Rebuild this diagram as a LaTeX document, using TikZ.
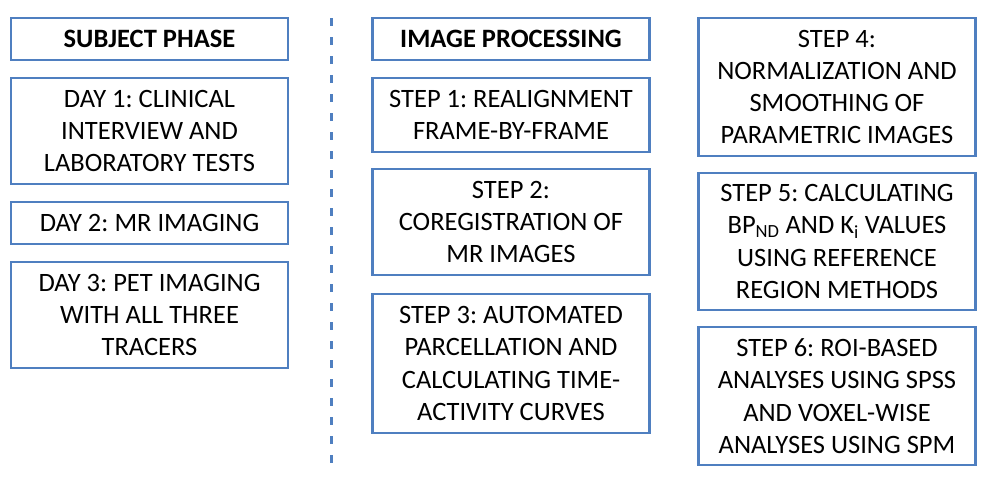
\documentclass[tikz,border=0pt]{standalone}
\usepackage{fontspec}
\setmainfont{Carlito}
\definecolor{boxblue}{HTML}{4F7FC0}
\begin{document}
\frenchspacing
\begin{tikzpicture}[x=1pt,y=-1pt,
  box/.style={draw=boxblue, line width=2.8pt, fill=white, inner sep=0pt,
    align=center, minimum width=277pt,
    font=\fontsize{26.5}{32.3}\selectfont\frenchspacing},
  hdr/.style={box, font=\fontsize{26.5}{32.3}\selectfont\bfseries},
  divider/.style={draw=boxblue, line width=3pt, dash pattern=on 8pt off 11pt}]
\useasboundingbox (0,0) rectangle (991,480);
% left column
\node[hdr, minimum height=42pt] (subj) at (149.5,39) {SUBJECT PHASE};
\node[box, minimum height=106pt] (day1) at (149.5,131) {DAY 1: CLINICAL\\INTERVIEW AND\\LABORATORY TESTS};
\node[box, minimum height=42pt] (day2) at (149.5,223) {DAY 2: MR IMAGING};
\node[box, minimum height=106pt] (day3) at (149.5,315) {DAY 3: PET IMAGING\\WITH ALL THREE\\TRACERS};
% divider
\coordinate (dtop) at (331,18);
\coordinate (dbot) at (331,467);
\draw[divider] (dtop) -- (dbot);
% middle column
\node[hdr, minimum height=42pt] (ip) at (511,39) {IMAGE PROCESSING};
\node[box, minimum height=74pt] (s1) at (511,115) {STEP 1: REALIGNMENT\\FRAME-BY-FRAME};
\node[box, minimum height=106pt] (s2) at (511,222) {STEP 2:\\COREGISTRATION OF\\MR IMAGES};
\node[box, minimum height=139pt] (s3) at (511,363.5) {STEP 3: AUTOMATED\\PARCELLATION AND\\CALCULATING TIME-\\ACTIVITY CURVES};
% right column
\node[box, minimum height=138pt] (s4) at (837,87) {STEP 4:\\NORMALIZATION AND\\SMOOTHING OF\\PARAMETRIC IMAGES};
\node[box, minimum height=137pt] (s5) at (837,241.5) {STEP 5: CALCULATING\\BP\textsubscript{ND} AND K\textsubscript{i} VALUES\\USING REFERENCE\\REGION METHODS};
\node[box, minimum height=138pt] (s6) at (837,396) {STEP 6: ROI-BASED\\ANALYSES USING SPSS\\AND VOXEL-WISE\\ANALYSES USING SPM};
\end{tikzpicture}
\end{document}
